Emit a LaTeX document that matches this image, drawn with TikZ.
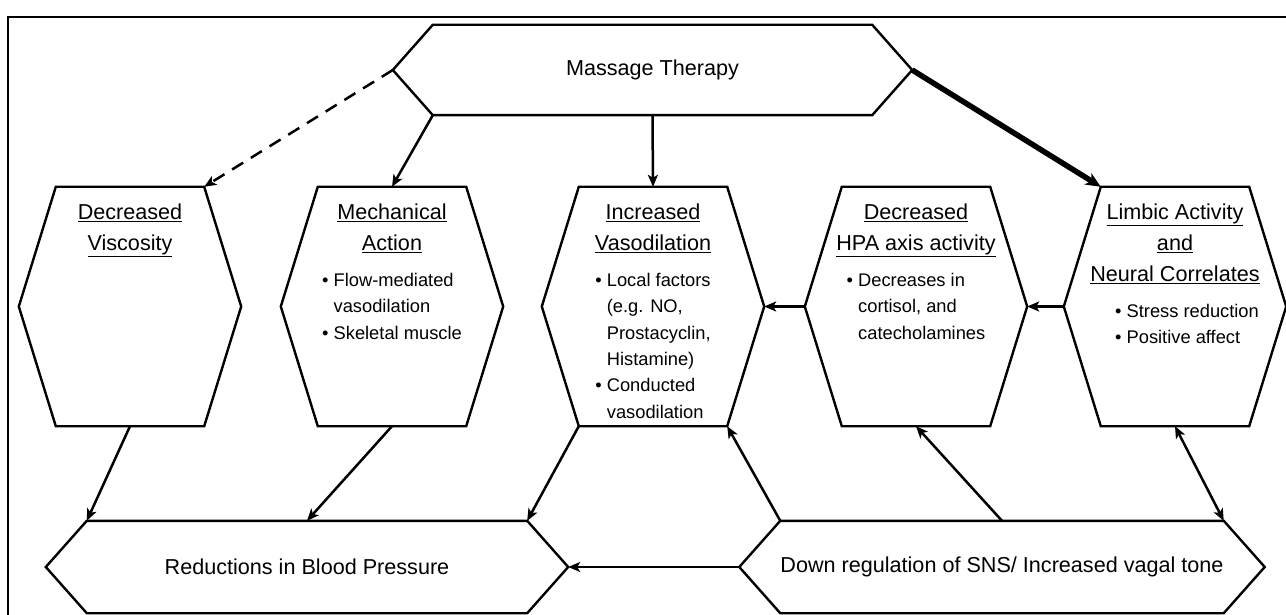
\documentclass[tikz,border=0pt]{standalone}
\usepackage{fontspec}
\setmainfont{Liberation Sans}
\usepackage{tikz}
\usetikzlibrary{positioning, arrows.meta}
\newcommand{\bulgap}{\phantom{\textbullet\ }}

\begin{document}
\begin{tikzpicture}[x=1pt, y=-1pt,
  hexbody/.style={minimum width=148pt, minimum height=239pt},
  bandbody/.style={minimum width=440pt, minimum height=92pt, font=\fontsize{21.6}{26}\selectfont},
  hdtext/.style={align=center, font=\fontsize{21.6}{31}\selectfont},
  listtext/.style={align=left, font=\fontsize{18.3}{26.4}\selectfont},
  hexline/.style={line width=2.4pt, line join=miter},
  link/.style={line width=2.5pt, -{Stealth[length=12pt, width=10pt, inset=3pt]}}]
\tikzstyle{every node}+=[inner sep=0pt]
\useasboundingbox (0,0) rectangle (1286,615);
\draw [line width=2pt] (8,615) -- (8,17) -- (1286,17);
\node [bandbody, minimum height=90pt, minimum width=439pt] (mt) at (652.5,70) {Massage Therapy};
\node [hexbody] (h1) at (130,306.5) {};
\node [hexbody] (h2) at (392,306.5) {};
\node [hexbody] (h3) at (653,306.5) {};
\node [hexbody] (h4) at (916,306.5) {};
\node [hexbody] (h5) at (1175,306.5) {};
\node [bandbody] (bp) at (307,567) {Reductions in Blood Pressure};
\node [bandbody, minimum width=442pt] (dr) at (1002,567) {Down regulation of SNS/ Increased vagal tone};
\foreach \n/\d in {mt/40, h1/37, h2/37, h3/37, h4/37, h5/37, bp/41, dr/41} {
  \coordinate (\n-l) at ([xshift=-\d]\n.west);
  \coordinate (\n-r) at ([xshift=\d]\n.east);
  \draw [hexline] (\n.north west) -- (\n.north east) -- (\n-r) -- (\n.south east)
    -- (\n.south west) -- (\n-l) -- cycle;
}
\node [hdtext, below=17pt of h1.north] (h1t) {\underline{Decreased}\\\underline{Viscosity}};
\node [hdtext, below=17pt of h2.north] (h2t) {\underline{Mechanical}\\\underline{Action}};
\node [hdtext, below=17pt of h3.north] (h3t) {\underline{Increased}\\\underline{Vasodilation}};
\node [hdtext, below=17pt of h4.north] (h4t) {\underline{Decreased}\\\underline{HPA axis activity}};
\node [hdtext, below=17pt of h5.north] (h5t) {\underline{Limbic Activity}\\\underline{and}\\\underline{Neural Correlates}};
\node [listtext, below=86pt of h2.north] (h2b) {\textbullet\ Flow-mediated\\\bulgap vasodilation\\\textbullet\ Skeletal muscle};
\node [listtext, below=86pt of h3.north] (h3b) {\textbullet\ Local factors\\\bulgap(e.g. NO,\\\bulgap Prostacyclin,\\\bulgap Histamine)\\\textbullet\ Conducted\\\bulgap vasodilation};
\node [listtext, below=86pt of h4.north] (h4b) {\textbullet\ Decreases in\\\bulgap cortisol, and\\\bulgap catecholamines};
\node [listtext, below=117pt of h5.north, xshift=12pt] (h5b) {\textbullet\ Stress reduction\\\textbullet\ Positive affect};
\draw [link, dash pattern=on 13pt off 9pt] (mt-l) -- (h1.north east);
\draw [link] (mt.south west) -- (h2.north);
\draw [link] (mt.south) -- (h3.north);
\draw [link, line width=5.5pt, -{Stealth[length=15pt, width=13pt, inset=4pt]}] (mt-r) -- (h5.north west);
\draw [link] (h5-l) -- (h4-r);
\draw [link] (h4-l) -- (h3-r);
\draw [link] (h1.south) -- (bp.north west);
\draw [link] (h2.south) -- (bp.north);
\draw [link] (h3.south west) -- (bp.north east);
\draw [link] (dr-l) -- (bp-r);
\draw [link] (dr.north west) -- (h3.south east);
\draw [link] (dr.north) -- (h4.south);
\draw [link, {Stealth[length=12pt, width=10pt, inset=3pt]}-{Stealth[length=12pt, width=10pt, inset=3pt]}] (dr.north east) -- (h5.south);
\end{tikzpicture}
\end{document}
